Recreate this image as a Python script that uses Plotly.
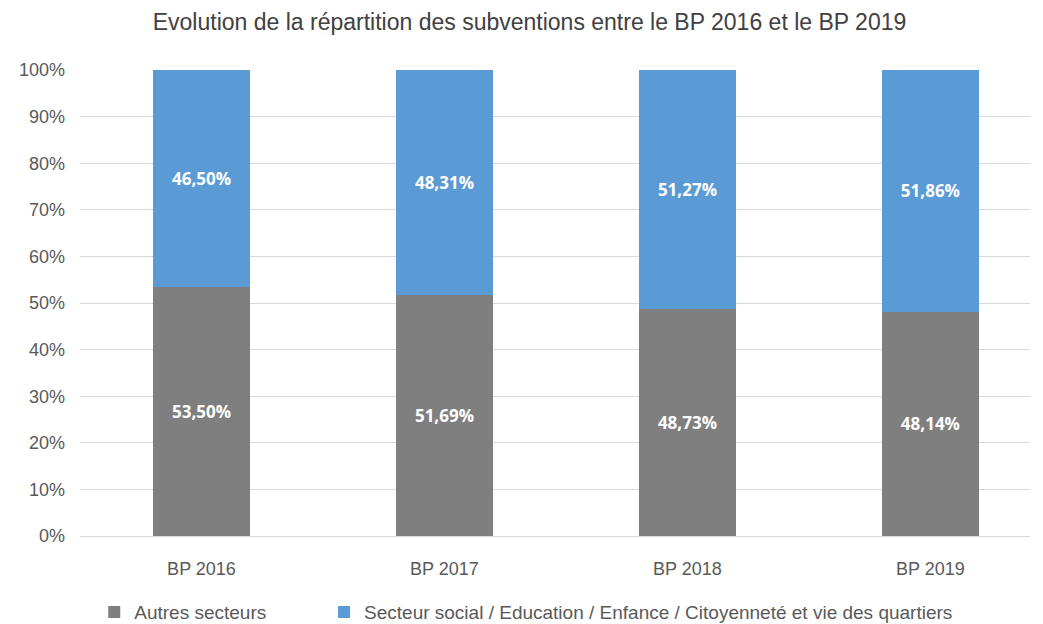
import numpy as np
import pandas as pd
import plotly.graph_objects as go


def create_stacked_bar(df, category_name, value_names, title_text):
    
    # excel-like palette:
    palette = ["#7f7f7f", "#5b9bd5"]
    
    fig = go.Figure()
    
    for idx, value_name in enumerate(value_names):
        fig.add_trace(
            go.Bar(
                x=df[category_name],
                y=df[value_name],
                name=value_name + ('\u00a0' * 10 if idx == 0 else ''),  # wider gap between legend items
                marker={'color': palette[idx], 'line': {'width': 0}},
                text=[('%.2f%%' % v).replace('.', ',') for v in df[value_name]],
                textposition='inside',
                insidetextanchor='middle',
                textfont={'color': 'white', 'size': 17, 'family': 'Open Sans'},
                texttemplate='<b>%{text}</b>',
                hoverinfo='skip'
            )
        )
    
    fig.update_layout(
        height=624,
        width=1043,
        barmode='stack',
        bargap=0.6,
        plot_bgcolor='white',
        paper_bgcolor='white',
        font={'family': 'Liberation Sans Narrow, Liberation Sans, sans-serif', 'color': '#595959', 'size': 17},
        margin={'l': 72, 'r': 21, 't': 62, 'b': 96},
        title={'text': title_text, 'x': 0.5, 'xanchor': 'center', 'y': 0.978, 'yanchor': 'middle',
               'font': {'size': 23, 'color': '#404040'}},
        uniformtext={'mode': 'show', 'minsize': 10}
    )
    
    fig.update_xaxes(
        range=[-0.5, 3.41],
        showline=True, linecolor='#d9d9d9', linewidth=1,
        ticks='', ticklabelstandoff=16, tickfont={'size': 18}
    )
    
    fig.update_yaxes(
        range=[0, 100],
        dtick=10,
        ticksuffix='%',
        showgrid=True, gridcolor='#d9d9d9', gridwidth=1,
        zeroline=False,
        ticklabelstandoff=14,
        tickfont={'size': 18}
    )
    
    fig.update_layout(
        legend={'orientation': 'h', 'x': 0.015, 'xanchor': 'left',
                'yref': 'container', 'y': 0.032, 'yanchor': 'middle',
                'font': {'size': 19}, 'itemwidth': 30, 'traceorder': 'normal'}
    )
    
    return fig


df = pd.DataFrame({
    'annee': ['BP 2016', 'BP 2017', 'BP 2018', 'BP 2019'],
    'Autres secteurs': [53.50, 51.69, 48.73, 48.14],
    'Secteur social / Education / Enfance / Citoyenneté et vie des quartiers': [46.50, 48.31, 51.27, 51.86],
})

fig = create_stacked_bar(
    df, 'annee',
    ['Autres secteurs', 'Secteur social / Education / Enfance / Citoyenneté et vie des quartiers'],
    'Evolution de la répartition des subventions entre le BP 2016 et le BP 2019'
)
fig.write_html("out.html")
